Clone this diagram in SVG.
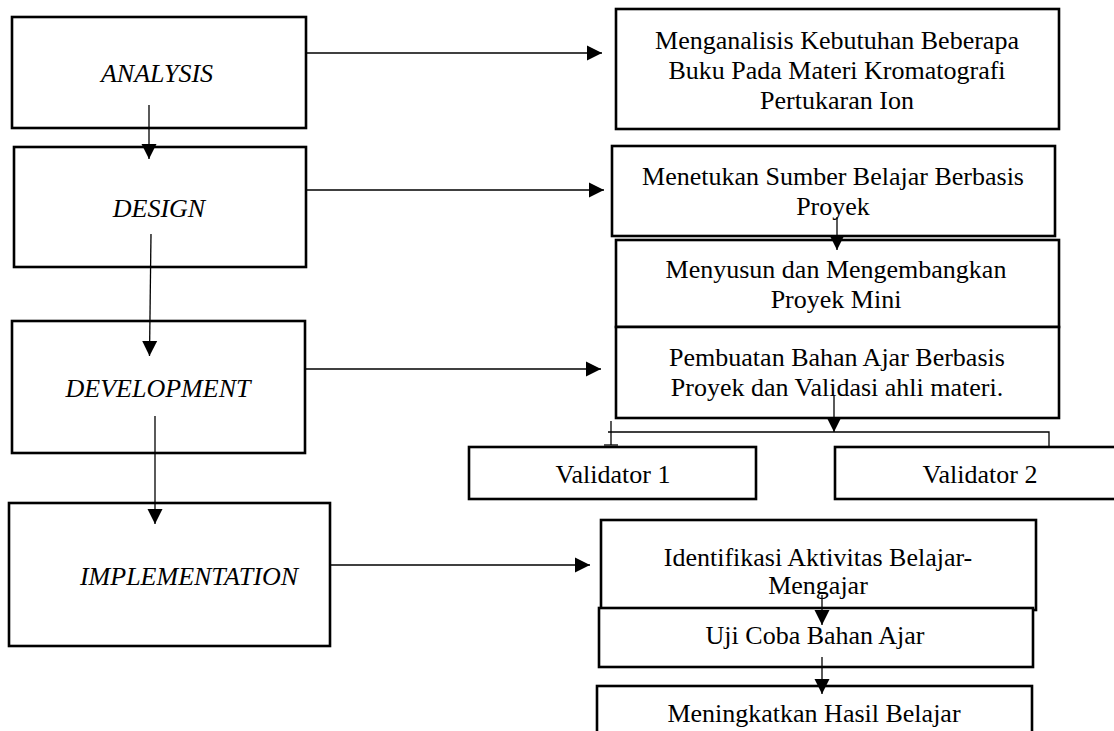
<svg xmlns="http://www.w3.org/2000/svg" width="1114" height="731" viewBox="0 0 1114 731">
<style>
.box{fill:#fff;stroke:#000;stroke-width:2.6}
.lbl{font-family:"Liberation Serif","Times New Roman",serif;font-size:26px;font-style:italic;fill:#000;text-anchor:middle}
.txt{font-family:"Liberation Serif","Times New Roman",serif;font-size:26px;fill:#000;text-anchor:middle}
.ln{fill:none;stroke:#000;stroke-width:1.3}
</style>
<defs>
<marker id="ah" markerUnits="userSpaceOnUse" markerWidth="16" markerHeight="16" viewBox="0 0 16 16" refX="15" refY="8" orient="auto">
<path d="M0,0.5 L15,8 L0,15.5 Z" fill="#000"/>
</marker>
</defs>
<rect x="0" y="0" width="1114" height="731" fill="#fff"/>

<g id="analysis"><rect class="box" x="12" y="17" width="294" height="111"/><text class="lbl" x="157" y="82">ANALYSIS</text></g>
<g id="design"><rect class="box" x="14" y="147" width="292" height="120"/><text class="lbl" x="159" y="217">DESIGN</text></g>
<g id="development"><rect class="box" x="12" y="321" width="293" height="132"/><text class="lbl" x="158" y="397">DEVELOPMENT</text></g>
<g id="implementation"><rect class="box" x="9" y="503" width="321" height="143"/><text class="lbl" x="189" y="585">IMPLEMENTATION</text></g>

<g id="box-menganalisis"><rect class="box" x="616" y="9" width="443" height="120"/>
<text class="txt" x="837" y="49">Menganalisis Kebutuhan Beberapa</text>
<text class="txt" x="837" y="79">Buku Pada Materi Kromatografi</text>
<text class="txt" x="837" y="109">Pertukaran Ion</text></g>
<g id="box-menetukan"><rect class="box" x="612" y="146" width="443" height="90"/>
<text class="txt" x="833" y="185">Menetukan Sumber Belajar Berbasis</text>
<text class="txt" x="833" y="215">Proyek</text></g>
<g id="box-menyusun"><rect class="box" x="616" y="240" width="443" height="87"/>
<text class="txt" x="836" y="278">Menyusun dan Mengembangkan</text>
<text class="txt" x="836" y="308">Proyek Mini</text></g>
<g id="box-pembuatan"><rect class="box" x="616" y="327" width="443" height="91"/>
<text class="txt" x="837" y="366">Pembuatan Bahan Ajar Berbasis</text>
<text class="txt" x="837" y="396">Proyek dan Validasi ahli materi.</text></g>
<g id="validator1"><rect class="box" x="469" y="447" width="287" height="52"/>
<text class="txt" x="613" y="483">Validator 1</text></g>
<g id="validator2"><rect class="box" x="835" y="447" width="290" height="52"/>
<text class="txt" x="980" y="483">Validator 2</text></g>
<g id="box-identifikasi"><rect class="box" x="601" y="520" width="435" height="90"/>
<text class="txt" x="818" y="566">Identifikasi Aktivitas Belajar-</text>
<text class="txt" x="818" y="594">Mengajar</text></g>
<g id="box-ujicoba"><rect class="box" x="599" y="608" width="434" height="59"/>
<text class="txt" x="815" y="644">Uji Coba Bahan Ajar</text></g>
<g id="box-meningkatkan"><rect class="box" x="597" y="686" width="435" height="60"/>
<text class="txt" x="814" y="722">Meningkatkan Hasil Belajar</text></g>

<g id="connectors">
<line class="ln" x1="149" y1="105" x2="149" y2="159" marker-end="url(#ah)"/>
<line class="ln" x1="151" y1="234" x2="149.5" y2="356" marker-end="url(#ah)"/>
<line class="ln" x1="155" y1="416" x2="155" y2="524" marker-end="url(#ah)"/>
<line class="ln" x1="306" y1="53" x2="602" y2="53" marker-end="url(#ah)"/>
<line class="ln" x1="306" y1="190" x2="604" y2="190" marker-end="url(#ah)"/>
<line class="ln" x1="305" y1="369" x2="601" y2="369" marker-end="url(#ah)"/>
<line class="ln" x1="330" y1="565" x2="590" y2="565" marker-end="url(#ah)"/>
<line class="ln" x1="837" y1="217" x2="837" y2="250" marker-end="url(#ah)"/>
<line class="ln" x1="834" y1="396" x2="834" y2="432" marker-end="url(#ah)"/>
<polyline class="ln" points="608,432 1049,432 1049,446"/>
<line class="ln" x1="611" y1="421" x2="611" y2="445"/>
<line class="ln" x1="604" y1="445" x2="618" y2="445"/>
<line class="ln" x1="822" y1="595" x2="822" y2="625" marker-end="url(#ah)"/>
<line class="ln" x1="822" y1="657" x2="822" y2="694" marker-end="url(#ah)"/>
</g>
</svg>
